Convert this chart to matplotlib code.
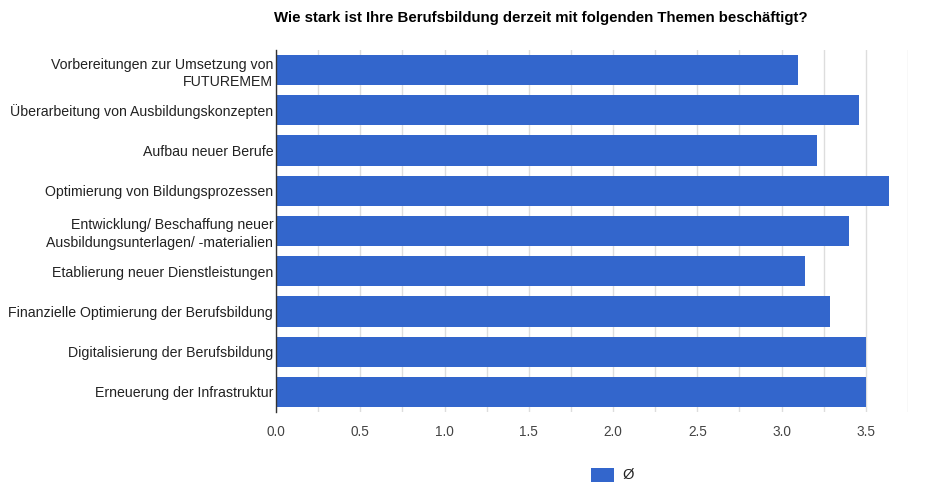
import matplotlib
matplotlib.use("Agg")
import matplotlib.pyplot as plt
import numpy as np

plt.rcParams['font.family'] = ['Liberation Sans', 'DejaVu Sans']

title = "Wie stark ist Ihre Berufsbildung derzeit mit folgenden Themen beschäftigt?"
categories = [
    "Vorbereitungen zur Umsetzung von\nFUTUREMEM",
    "Überarbeitung von Ausbildungskonzepten",
    "Aufbau neuer Berufe",
    "Optimierung von Bildungsprozessen",
    "Entwicklung/ Beschaffung neuer\nAusbildungsunterlagen/ -materialien",
    "Etablierung neuer Dienstleistungen",
    "Finanzielle Optimierung der Berufsbildung",
    "Digitalisierung der Berufsbildung",
    "Erneuerung der Infrastruktur",
]
values = [3.10, 3.46, 3.21, 3.64, 3.40, 3.14, 3.29, 3.50, 3.50]
series_name = "Ø"
xticks = [0.0, 0.5, 1.0, 1.5, 2.0, 2.5, 3.0, 3.5]
xtick_labels = ["0.0", "0.5", "1.0", "1.5", "2.0", "2.5", "3.0", "3.5"]

fig = plt.figure(figsize=(9.35, 4.83), dpi=100)
ax = fig.add_axes([276/935, 1-412/483, 632/935, 362/483])

y = np.arange(len(categories))
ax.barh(y, values, height=0.75, color="#3366CC", zorder=3, label=series_name)
ax.set_ylim(len(categories) - 0.5, -0.5)
ax.set_xlim(0, 3.75)

ax.set_yticks(y)
ax.set_yticklabels(categories, fontsize=10.2, color="#222222", linespacing=1.3)
ax.tick_params(axis='y', length=0, pad=2)

ax.set_xticks(xticks)
ax.set_xticklabels(xtick_labels, fontsize=9.8, color="#444444")
ax.set_xticks(np.arange(0, 3.76, 0.25), minor=True)
ax.tick_params(axis='x', which='both', length=0, pad=9.5)
ax.grid(axis='x', which='both', color="#dddddd", linewidth=1, zorder=0)

for s in ['top', 'right', 'bottom']:
    ax.spines[s].set_visible(False)
ax.spines['left'].set_color("#333333")
ax.spines['left'].set_linewidth(1)
ax.spines['left'].set_zorder(4)

fig.text(0.5786, 1 - 18/483, title, ha='center', va='center',
         fontsize=10.8, fontweight='bold', color="#000000")

fig.legend(loc='center', bbox_to_anchor=(0.655, 1 - 475/483), frameon=False,
           fontsize=10.5, handlelength=1.6, handleheight=1.1, handletextpad=0.6,
           labelcolor="#222222")

fig.savefig("out.png", dpi=100, facecolor="white")
